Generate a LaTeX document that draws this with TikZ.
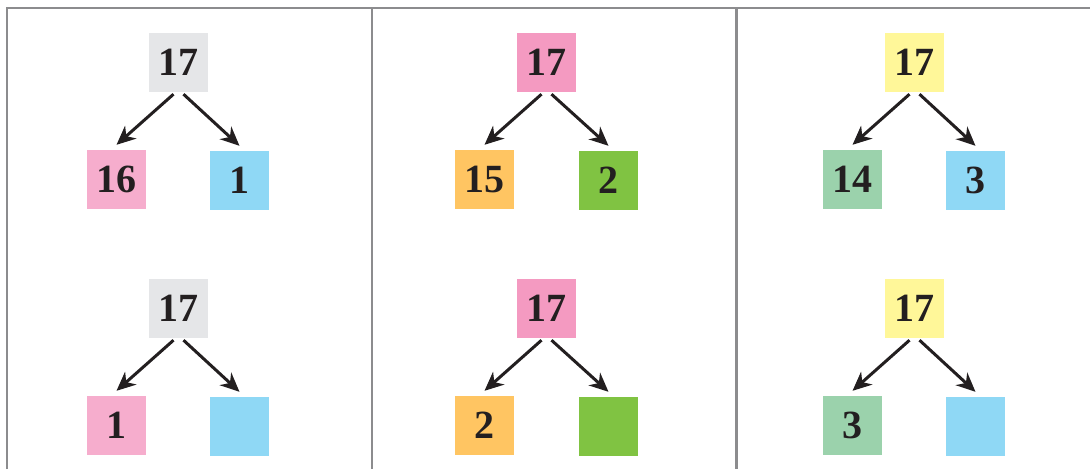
\documentclass[tikz,border=0pt]{standalone}
\usepackage{fontspec}
\setmainfont{Liberation Serif}
\usepackage{xcolor}
\usepackage{tikz}
\usetikzlibrary{arrows.meta}
\definecolor{ink}     {HTML}{231F20}
\definecolor{rulec}   {HTML}{8C8C8E}
\definecolor{greyc}   {HTML}{E5E6E8}
\definecolor{rosec}   {HTML}{F6ADCD}
\definecolor{pinkc}   {HTML}{F49AC1}
\definecolor{skyc}    {HTML}{8FD8F5}
\definecolor{orangec} {HTML}{FFC562}
\definecolor{greenc}  {HTML}{80C342}
\definecolor{yellowc} {HTML}{FFF799}
\definecolor{mintc}   {HTML}{9BD2AC}
\tikzset{
  numbox/.style = {minimum size=59pt, inner sep=0pt, text=ink,
                   font=\fontsize{40}{42}\selectfont\bfseries},
  link/.style   = {-{Stealth[length=19pt, width=17pt, inset=6pt]},
                   draw=ink, line width=3pt},
  frame/.style  = {draw=rulec, line width=2.2pt},
}

\begin{document}
\begin{tikzpicture}[x=1pt, y=-1pt]
  \useasboundingbox (0,0) rectangle (1090,469);
  % frame and dividers
  \draw[frame] (7,469) -- (7,8) -- (1090,8);
  \draw[frame] (372,8) -- (372,469);
  \draw[frame] (736.5,8) -- (736.5,469);

  % left column
  \node[numbox, fill=greyc] (a1)  at (178.5,62.5)  {17};
  \node[numbox, fill=rosec] (a1l) at (116.5,179.5) {16};
  \node[numbox, fill=skyc]  (a1r) at (239.5,180.5) {1};
  \node[numbox, fill=greyc] (a2)  at (178.5,308.5) {17};
  \node[numbox, fill=rosec] (a2l) at (116.5,425.5) {1};
  \node[numbox, fill=skyc]  (a2r) at (239.5,426.5) {};

  % middle column
  \node[numbox, fill=pinkc]   (b1)  at (546.5,62.5)  {17};
  \node[numbox, fill=orangec] (b1l) at (484.5,179.5) {15};
  \node[numbox, fill=greenc]  (b1r) at (608.5,180.5) {2};
  \node[numbox, fill=pinkc]   (b2)  at (546.5,308.5) {17};
  \node[numbox, fill=orangec] (b2l) at (484.5,425.5) {2};
  \node[numbox, fill=greenc]  (b2r) at (608.5,426.5) {};

  % right column
  \node[numbox, fill=yellowc] (c1)  at (914.5,62.5)  {17};
  \node[numbox, fill=mintc]   (c1l) at (852.5,179.5) {14};
  \node[numbox, fill=skyc]    (c1r) at (975.5,180.5) {3};
  \node[numbox, fill=yellowc] (c2)  at (914.5,308.5) {17};
  \node[numbox, fill=mintc]   (c2l) at (852.5,425.5) {3};
  \node[numbox, fill=skyc]    (c2r) at (975.5,426.5) {};

  % arrows
  \foreach \t in {a1,a2,b1,b2,c1,c2}{
    \draw[link] ([xshift=-5pt,yshift=-2pt]\t.south) -- ([yshift=5pt]\t l.north);
    \draw[link] ([xshift=5pt,yshift=-2pt]\t.south) -- ([yshift=5pt]\t r.north);
  }
\end{tikzpicture}
\end{document}
